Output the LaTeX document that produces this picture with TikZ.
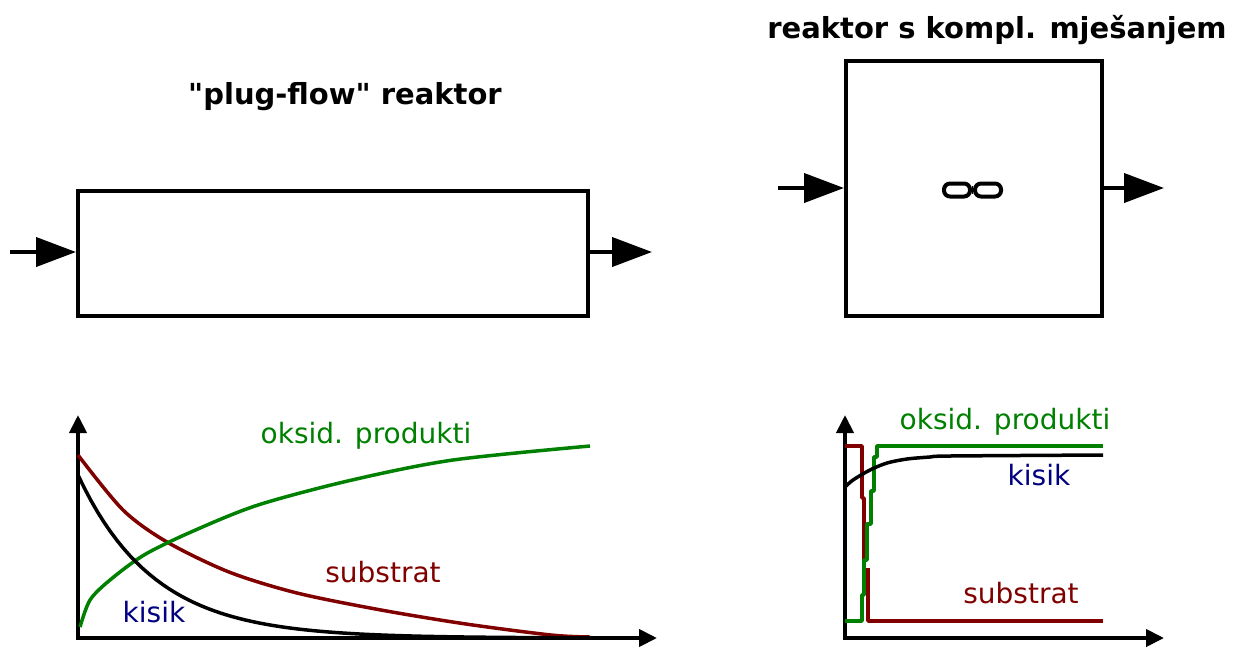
\documentclass[tikz,border=0pt]{standalone}
\usepackage{fontspec}
\setmainfont{DejaVu Sans}[Ligatures=TeXOff]
\usetikzlibrary{arrows.meta, positioning}

\definecolor{prodgreen}{RGB}{0,128,0}
\definecolor{subred}{RGB}{128,0,0}
\definecolor{oxblue}{RGB}{0,0,128}

\begin{document}
\begin{tikzpicture}[
    x=1pt, y=-1pt,
    reactor/.style={rectangle, draw, line width=4pt, inner sep=0pt},
    title/.style={font=\bfseries\fontsize{29}{34}\selectfont},
    lbl/.style={font=\fontsize{28}{33}\selectfont},
    flow/.style={line width=4pt, -{Triangle[length=40pt, width=29pt]}},
    axis/.style={line width=4pt, {Triangle[length=18pt, width=17pt]}-{Triangle[length=18pt, width=17pt]}},
    curve/.style={line width=3.5pt, line join=round},
    mixer/.style={rectangle, rounded corners=6pt, draw, line width=4pt, minimum width=26pt, minimum height=13pt, inner sep=0pt}
]
    \useasboundingbox (0,0) rectangle (1244,649);

    % plug-flow reaktor
    \node[title] (pfrtitle) at (345,97) {"plug-flow" reaktor};
    \node[reactor, minimum width=510pt, minimum height=125pt] (pfr) at (333,253.5) {};
    \coordinate (pfrin) at (10,252);
    \coordinate (pfrout) at (652,252);
    \draw[flow] (pfrin) -- (pfr.west |- pfrin);
    \draw[flow] (pfr.east |- pfrout) -- (pfrout);

    % reaktor s kompl. mjesanjem
    \node[title] (cstrtitle) at (997,30) {reaktor s kompl. mješanjem};
    \node[reactor, minimum width=256pt, minimum height=255pt] (cstr) at (974,188.5) {};
    \coordinate (cstrin) at (778,188);
    \coordinate (cstrout) at (1164,188);
    \draw[flow] (cstrin) -- (cstr.west |- cstrin);
    \draw[flow] (cstr.east |- cstrout) -- (cstrout);
    \node[mixer] (mixa) at (957,190) {};
    \node[mixer] (mixb) at (988,190) {};
    \draw[line width=8pt] (mixa.east) -- (mixb.west);

    % left plot
    \coordinate (ly) at (78,415);
    \coordinate (lx) at (657,638);
    \draw[axis] (ly) |- (lx);
    \draw[curve, subred] plot[smooth] coordinates {(78,455) (123,510) (167,542) (229,572) (297,593) (381,610) (466,624) (551,635) (590,637)};
    \draw[curve, prodgreen] plot[smooth] coordinates {(80,627) (90,600) (110,580) (144,555) (191,532) (258,505) (352,480) (453,460) (590,446)};
    \draw[curve, black] plot[domain=0:512, samples=80] ({78+\x},{638-163*exp(-\x/76)});
    \node[lbl, prodgreen] (lprod) at (366,436) {oksid. produkti};
    \node[lbl, subred] (lsub) at (383,572) {substrat};
    \node[lbl, oxblue] (lox) at (154,612) {kisik};

    % right plot
    \coordinate (ry) at (845,415);
    \coordinate (rx) at (1164,638);
    \draw[axis] (ry) |- (rx);
    \draw[curve, subred] (845,446) -- (862,446) -- (862,498) -- (864,498) -- (864,560);
    \draw[curve, subred] (868,568) -- (868,621) -- (1103,621);
    \draw[curve, prodgreen] (845,621) -- (862,621) -- (862,595) -- (864,595) -- (864,560) -- (867,560) -- (867,524) -- (871,524) -- (871,491) -- (874,491) -- (874,457) -- (877,457) -- (877,446) -- (1103,446);
    \draw[curve, black] plot[smooth] coordinates {(845,487) (853,480) (870,470) (887,463) (907,459) (930,457) (950,456) (1103,455)};
    \node[lbl, prodgreen] (rprod) at (1005,422) {oksid. produkti};
    \node[lbl, oxblue] (rox) at (1039,475) {kisik};
    \node[lbl, subred] (rsub) at (1021,593) {substrat};
\end{tikzpicture}
\end{document}
